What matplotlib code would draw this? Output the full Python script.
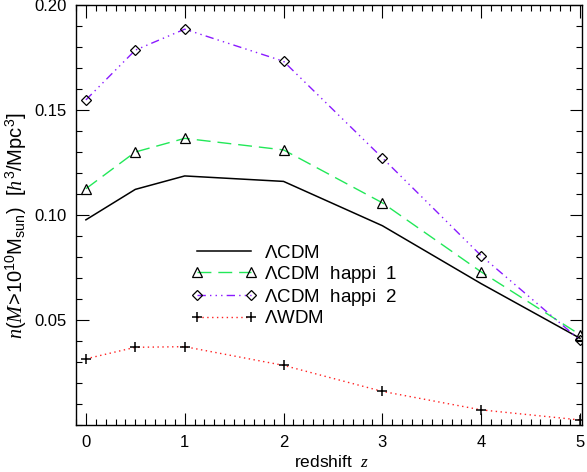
import matplotlib
matplotlib.use("Agg")
import matplotlib.pyplot as plt
from matplotlib.ticker import MultipleLocator

plt.rcParams['font.family'] = ['Liberation Sans', 'DejaVu Sans']
plt.rcParams['mathtext.fontset'] = 'custom'
plt.rcParams['mathtext.rm'] = 'Liberation Sans'
plt.rcParams['mathtext.it'] = 'Liberation Serif:italic'

redshift = [0, 0.5, 1, 2, 3, 4, 5]
lcdm = [0.0977, 0.1122, 0.1186, 0.1160, 0.0949, 0.0673, 0.0413]
happi1 = [0.1125, 0.1300, 0.1365, 0.1310, 0.1058, 0.0729, 0.0430]
happi2 = [0.1548, 0.1785, 0.1885, 0.1732, 0.1272, 0.0806, 0.0404]
wdm = [0.0315, 0.0370, 0.0373, 0.0284, 0.0160, 0.0072, 0.0024]
labels = [r'$\Lambda$CDM', r'$\Lambda$CDM  happi  1', r'$\Lambda$CDM  happi  2', r'$\Lambda$WDM']

fig = plt.figure(figsize=(5.87, 4.72), dpi=100)
ax = fig.add_axes([76/587, 1-425/472, (582-76)/587, (425-5)/472])

ax.plot(redshift, lcdm, color='k', lw=1.1, label=labels[0])
ax.plot(redshift, happi1, color='#22e858', lw=1.0, dashes=(10, 5),
        marker='^', ms=7, mfc='none', mec='k', mew=0.9, label=labels[1])
ax.plot(redshift, happi2, color='#8a1aff', lw=1.0, dashes=(6, 3, 1, 3, 1, 3, 1, 3),
        marker='D', ms=5.5, mfc='none', mec='k', mew=0.9, label=labels[2])
ax.plot(redshift, wdm, color='#ff2020', lw=1.0, dashes=(1, 2.5),
        marker='+', ms=7.5, mec='k', mew=1.1, label=labels[3])

ax.set_xlim(-0.1, 5.02)
ax.set_ylim(0.0, 0.2)
ax.xaxis.set_major_locator(MultipleLocator(1))
ax.xaxis.set_minor_locator(MultipleLocator(0.1))
ax.yaxis.set_major_locator(MultipleLocator(0.05))
ax.yaxis.set_minor_locator(MultipleLocator(0.01))
ax.set_yticks([0.05, 0.10, 0.15, 0.20])
ax.set_yticklabels(['0.05', '0.10', '0.15', '0.20'])
ax.tick_params(which='both', direction='in', top=True, right=True, labelsize=12, width=0.8)
ax.tick_params(which='major', length=9, pad=7)
ax.tick_params(which='minor', length=4.5)
for s in ax.spines.values():
    s.set_linewidth(1.0)

ax.set_xlabel(r'redshift  $z$', fontsize=12.5)
ax.xaxis.set_label_coords(0.506, -0.068)
ax.set_ylabel(r'$n(M\!>\!10^{10}{\rm M}_{\rm sun})$  $[h^3/{\rm Mpc}^3]$', fontsize=14.5)
ax.yaxis.set_label_coords(-0.093, 0.474)

ax.legend(loc='upper left', bbox_to_anchor=(0.228, 0.43), frameon=False, fontsize=13.5,
          handlelength=3.5, handletextpad=0.35, labelspacing=0.12, borderpad=0,
          borderaxespad=0, numpoints=2)

fig.savefig('out.png', dpi=100)
